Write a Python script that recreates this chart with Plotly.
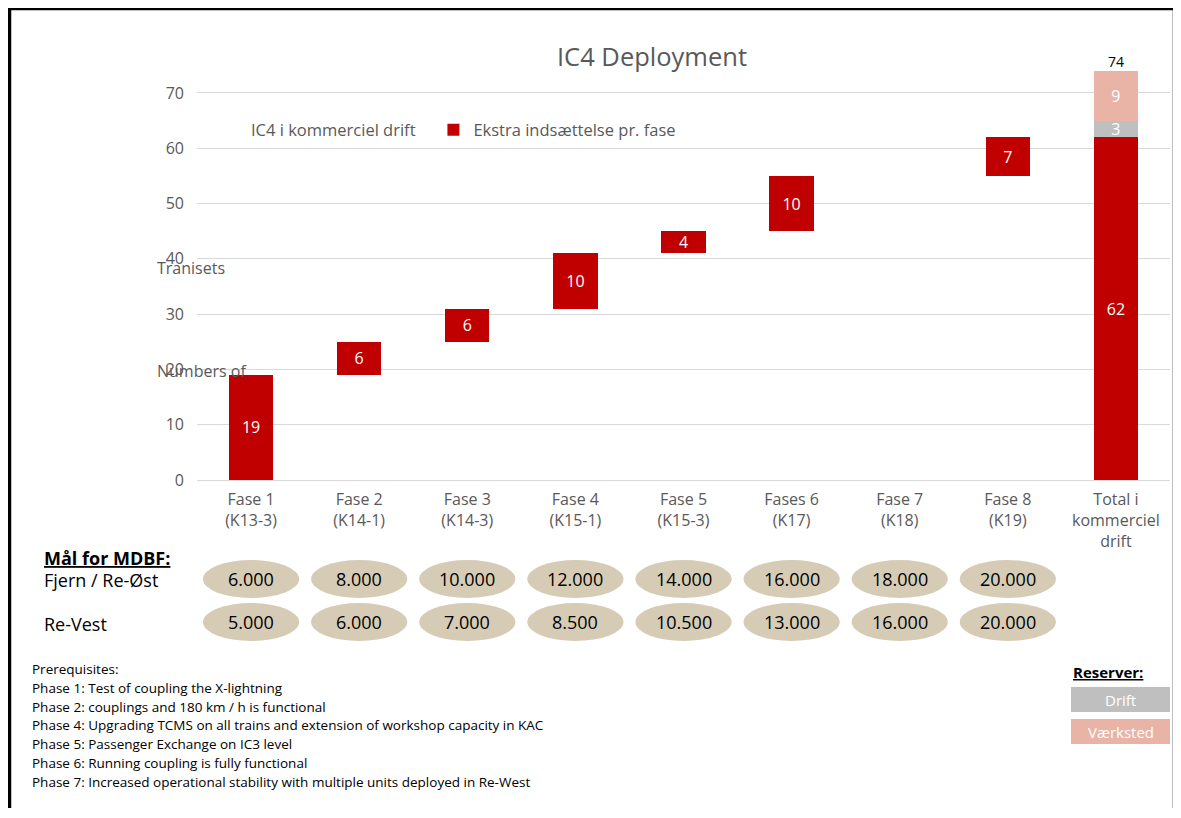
import plotly.graph_objects as go

# the page body has an 8px margin, so the figure is drawn 8px in from the corner
OFF = 8
W, H = 1169, 800

categories = ['Fase 1<br>(K13-3)', 'Fase 2<br>(K14-1)', 'Fase 3<br>(K14-3)', 'Fase 4<br>(K15-1)',
              'Fase 5<br>(K15-3)', 'Fases 6<br>(K17)', 'Fase 7<br>(K18)', 'Fase 8<br>(K19)',
              'Total i<br>kommerciel<br>drift']
base = [0, 19, 25, 31, 41, 45, None, 55, 0]
ekstra = [19, 6, 6, 10, 4, 10, None, 7, 62]
drift = [None, None, None, None, None, None, None, None, 3]
vaerksted = [None, None, None, None, None, None, None, None, 9]

mdbf_oest = ['6.000', '8.000', '10.000', '12.000', '14.000', '16.000', '18.000', '20.000']
mdbf_vest = ['5.000', '6.000', '7.000', '8.500', '10.500', '13.000', '16.000', '20.000']

prereq = ['Prerequisites:',
          'Phase 1: Test of coupling the X-lightning',
          'Phase 2: couplings and 180 km / h is functional',
          'Phase 4: Upgrading TCMS on all trains and extension of workshop capacity in KAC',
          'Phase 5: Passenger Exchange on IC3 level',
          'Phase 6: Running coupling is fully functional',
          'Phase 7: Increased operational stability with multiple units deployed in Re-West']

RED = '#c00000'
GREY = '#bfbfbf'
PINK = '#e9b3a6'
TAN = '#d6ccb6'
TXT = '#595959'
FONT = 'Open Sans'


def px(x):
    return (x - OFF) / W


def py(y):
    return 1 - (y - OFF) / H


def lbl(vals):
    return [v if v is not None else '' for v in vals]


bar_txt = dict(color='white', size=16, family=FONT)

fig = go.Figure()
fig.add_trace(go.Bar(x=categories, y=base, name='IC4 i kommerciel drift\u00a0\u00a0\u00a0',
                     marker=dict(color='rgba(0,0,0,0)', line=dict(width=0)),
                     hoverinfo='skip', width=0.41))
for vals, name, col, show in ((ekstra, 'Ekstra indsættelse pr. fase', RED, True),
                              (drift, 'Drift', GREY, False),
                              (vaerksted, 'Værksted', PINK, False)):
    fig.add_trace(go.Bar(x=categories, y=vals, name=name, showlegend=show,
                         marker=dict(color=col, line=dict(width=0)), width=0.41,
                         text=lbl(vals), textposition='inside', insidetextanchor='middle',
                         textangle=0, constraintext='none', cliponaxis=False,
                         textfont=bar_txt))

total = ekstra[-1] + drift[-1] + vaerksted[-1]
fig.add_trace(go.Scatter(x=[categories[-1]], y=[total], mode='text', text=[str(total)],
                         textposition='top center', showlegend=False, cliponaxis=False,
                         textfont=dict(color='black', size=14, family=FONT)))

shapes = []
annotations = []


def note(x, y, text, size, color='black', xanchor='left', xref='paper'):
    annotations.append(dict(x=x, y=y, xref=xref, yref='paper', xanchor=xanchor, yanchor='middle',
                            text=text, showarrow=False,
                            font=dict(size=size, color=color, family=FONT)))


# MDBF ellipses
for i, (a, b) in enumerate(zip(mdbf_oest, mdbf_vest)):
    for yc, val in ((579, a), (622, b)):
        shapes.append(dict(type='circle', xref='x', yref='paper',
                           x0=i - 0.445, x1=i + 0.445, y0=py(yc + 19), y1=py(yc - 19),
                           fillcolor=TAN, line=dict(width=0), layer='below'))
        note(i, py(yc), val, 18, xanchor='center', xref='x')

note(px(42), py(558), '<b><u>Mål for MDBF:</u></b>', 18)
note(px(42), py(580), 'Fjern / Re-Øst', 18)
note(px(42), py(624), 'Re-Vest', 18)
note(px(155), py(268), 'Tranisets', 16, TXT)
note(px(155), py(371), 'Numbers of', 16, TXT)
note(px(1071), py(672), '<b><u>Reserver:</u></b>', 15)

for i, line in enumerate(prereq):
    note(px(30), py(669 + i * 18.8), line, 13.5)

for (y0, y1, col, label) in ((687, 712, GREY, 'Drift'), (719, 744, PINK, 'Værksted')):
    shapes.append(dict(type='rect', xref='paper', yref='paper', x0=px(1071), x1=px(1170),
                       y0=py(y1), y1=py(y0), fillcolor=col, line=dict(width=0)))
    note(px(1120.5), py((y0 + y1) / 2), label, 15, 'white', xanchor='center')

# page border
shapes.append(dict(type='rect', xref='paper', yref='paper', x0=px(9.5), x1=px(1174.5),
                   y0=py(840), y1=py(8.5), line=dict(color='black', width=3.5)))

fig.update_layout(
    width=W, height=H,
    margin=dict(l=0, r=0, t=0, b=0),
    paper_bgcolor='white', plot_bgcolor='white',
    barmode='stack', bargap=0.59,
    font=dict(family=FONT, color=TXT),
    title=dict(text='IC4 Deployment', x=px(652), y=py(57), xanchor='center', yanchor='middle',
               font=dict(size=25.5, color=TXT, family=FONT)),
    legend=dict(orientation='h', x=px(211), y=py(130), xanchor='left', yanchor='middle',
                font=dict(size=16.5, color=TXT, family=FONT), bgcolor='rgba(0,0,0,0)',
                traceorder='normal'),
    xaxis=dict(domain=[px(197), px(1170)], showgrid=False, showline=False, ticks='',
               ticklabelstandoff=8,
               tickfont=dict(size=16, color=TXT, family=FONT), automargin=False,
               fixedrange=True),
    yaxis=dict(domain=[py(480), py(59.8)], range=[0, 76], tickvals=[0, 10, 20, 30, 40, 50, 60, 70],
               showgrid=True, gridcolor='#d9d9d9', gridwidth=1, zeroline=True,
               zerolinecolor='#d9d9d9', zerolinewidth=1, showline=False, ticks='',
               ticklabelstandoff=12, tickfont=dict(size=16, color=TXT, family=FONT),
               automargin=False),
    shapes=shapes,
    annotations=annotations,
    showlegend=True,
)

fig.write_html('out.html')
